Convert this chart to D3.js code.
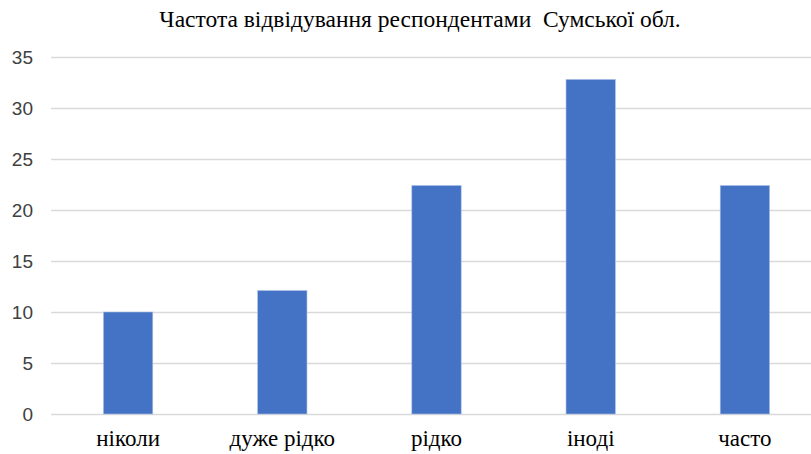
<!DOCTYPE html>
<html>
<head>
<meta charset="utf-8">
<script src="https://cdn.jsdelivr.net/npm/d3@7"></script>
<style>
  html, body { margin: 0; padding: 0; background: #fff; }
  svg { display: block; }
  .cat text { font-family: "Liberation Serif", "Times New Roman", serif; font-size: 23px; fill: #000; }
  .val text { font-family: "Liberation Sans", Arial, sans-serif; font-size: 19px; fill: #404040; }
  .title { font-family: "Liberation Serif", "Times New Roman", serif; font-size: 23.5px; fill: #000; white-space: pre; }
</style>
</head>
<body>
<svg id="chart" width="811" height="454"></svg>
<script>
// Частота відвідування — відсоток респондентів за категоріями
const categories = ["ніколи", "дуже рідко", "рідко", "іноді", "часто"];
const values = [10.0, 12.1, 22.4, 32.8, 22.4];
const yTicks = [0, 5, 10, 15, 20, 25, 30, 35];
const title = "Частота відвідування респондентами  Сумської обл.";

const svg = d3.select("#chart");
const plot = { left: 51, right: 822, top: 57, bottom: 414 };

const x = d3.scaleBand()
  .domain(categories)
  .range([plot.left, plot.right])
  .paddingInner(0.68)
  .paddingOuter(0.34);

const y = d3.scaleLinear()
  .domain([0, 35])
  .range([plot.bottom, plot.top]);

// horizontal gridlines and value labels
const yAxis = d3.axisLeft(y)
  .tickValues(yTicks)
  .tickSize(-(plot.right - plot.left))
  .tickPadding(18)
  .tickFormat(d3.format("d"));

const gy = svg.append("g")
  .attr("class", "val")
  .attr("transform", `translate(${plot.left},0)`)
  .call(yAxis)
  .attr("font-family", null)
  .attr("font-size", null);
gy.select(".domain").remove();
gy.selectAll(".tick line")
  .attr("stroke", "#d9d9d9")
  .attr("stroke-width", 1.5);

// bars
svg.append("g")
  .selectAll("rect")
  .data(values)
  .join("rect")
  .attr("x", (d, i) => x(categories[i]))
  .attr("width", x.bandwidth())
  .attr("y", d => y(d))
  .attr("height", d => y(0) - y(d))
  .attr("fill", "#4472c4")
  .attr("stroke", "#a9bfe6")
  .attr("stroke-width", 0.6);

// category labels
const xAxis = d3.axisBottom(x).tickSize(0).tickPadding(16);
const gx = svg.append("g")
  .attr("class", "cat")
  .attr("transform", `translate(0,${plot.bottom})`)
  .call(xAxis)
  .attr("font-family", null)
  .attr("font-size", null);
gx.select(".domain").remove();
gx.selectAll(".tick text").attr("fill", null);

// title
svg.append("text")
  .attr("class", "title")
  .attr("x", 420)
  .attr("y", 27)
  .attr("text-anchor", "middle")
  .text(title);
</script>
</body>
</html>
